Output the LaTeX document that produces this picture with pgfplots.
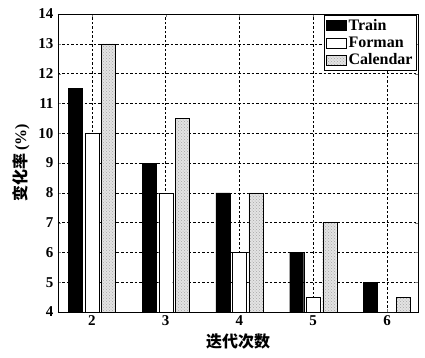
\documentclass[border=0pt]{standalone}
\usepackage{pgfplots}
\pgfplotsset{compat=1.18}
\usetikzlibrary{patterns}
\usepackage{fontspec}
\setmainfont{Liberation Serif}
\newfontfamily\cjk{Noto Sans CJK SC}
\begin{document}
\begin{tikzpicture}
\begin{axis}[
  name=ax,
  scale only axis,
  width=360pt, height=298pt,
  ybar, bar width=14pt,
  ymin=4, ymax=14, ytick={4,5,...,14},
  xmin=1.54, xmax=6.42,
  xtick={2,3,4,5,6},
  /pgf/number format/assume math mode=true,
  ticklabel style={font=\bfseries\fontsize{15}{15}\selectfont},
  yticklabel style={xshift=-1pt},
  tick align=inside,
  major tick length=3pt,
  xmajorgrids, ymajorgrids,
  grid style={black, line width=0.6pt, dash pattern=on 2.5pt off 2pt},
  axis line style={black, line width=0.7pt},
  ylabel={\cjk\bfseries 变化率\,{\rmfamily\bfseries (\%)}},
  xlabel={\cjk\bfseries 迭代次数},
  label style={font=\fontsize{16}{16}\selectfont},
  ylabel style={yshift=2pt},
  xlabel style={yshift=-1pt},
  legend style={at={(0.997,0.997)}, anchor=north east, draw=black, line width=0.7pt,
    font=\bfseries\fontsize{16}{16}\selectfont, inner xsep=2pt, inner ysep=2pt, row sep=1pt, cells={anchor=west}},
  legend image code/.code={\draw[#1, line width=0.5pt] (0pt,-5pt) rectangle (20pt,5pt);},
]
\addplot[draw=black, fill=black, bar shift=-16.5pt] coordinates {(2,11.5) (3,9) (4,8) (5,6) (6,5)};
\addplot[draw=black, fill=white, bar shift=0pt] coordinates {(2,10) (3,8) (4,6) (5,4.5) (6,4)};
\addplot[draw=black, fill=gray!22, postaction={pattern=crosshatch dots, pattern color=gray!70}, bar shift=16.5pt] coordinates {(2,13) (3,10.5) (4,8) (5,7) (6,4.5)};
\legend{Train, Forman, Calendar}
\end{axis}
\pgfresetboundingbox
\path ([shift={(-58pt,-45pt)}]ax.south west) rectangle ([shift={(7pt,14pt)}]ax.north east);
\end{tikzpicture}
\end{document}
